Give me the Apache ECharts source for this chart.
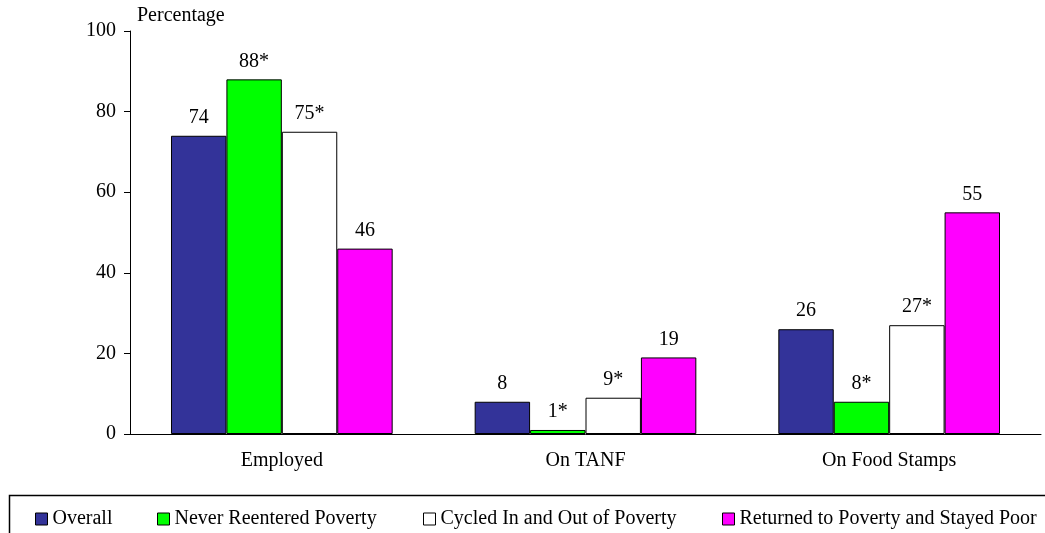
<!DOCTYPE html>
<html><head><meta charset="utf-8">
<script src="https://cdn.jsdelivr.net/npm/echarts@6/dist/echarts.min.js"></script>
<style>html,body{margin:0;padding:0;background:#fff}#c{width:1045px;height:533px}</style>
</head><body><div id="c"></div>
<script>
const categories = ["Employed", "On TANF", "On Food Stamps"];
const seriesNames = ["Overall", "Never Reentered Poverty", "Cycled In and Out of Poverty", "Returned to Poverty and Stayed Poor"];
const overall = [74, 8, 26];
const neverReentered = [88, 1, 8];
const cycled = [75, 9, 27];
const returned = [46, 19, 55];
const overallLabels = ["74", "8", "26"];
const neverLabels = ["88*", "1*", "8*"];
const cycledLabels = ["75*", "9*", "27*"];
const returnedLabels = ["46", "19", "55"];
const yTicks = [0, 20, 40, 60, 80, 100];
const colors = ["#333399", "#00FF00", "#FFFFFF", "#FF00FF"];

const FONT = "Liberation Serif";
const FS = 20;
const allData = [overall, neverReentered, cycled, returned];
const allLabels = [overallLabels, neverLabels, cycledLabels, returnedLabels];
const legendLefts = [35, 157, 423, 722];

const chart = echarts.init(document.getElementById('c'));
chart.setOption({
  animation: false,
  backgroundColor: '#fff',
  textStyle: {fontFamily: FONT, color: '#000'},
  grid: {left: 130, right: 4, top: 31, bottom: 99, containLabel: false},
  graphic: [{type: 'rect', shape: {x: 9.5, y: 495.5, width: 1050, height: 60},
    style: {fill: 'none', stroke: '#000', lineWidth: 1.5}, silent: true}],
  legend: seriesNames.map((n, i) => ({
    data: [{name: n, icon: 'rect'}], left: legendLefts[i], top: 509, itemWidth: 12, itemHeight: 12,
    itemGap: 0, selectedMode: false, padding: 0,
    textStyle: {fontFamily: FONT, fontSize: FS, color: '#000'},
    itemStyle: {borderColor: '#000', borderWidth: 1}
  })),
  xAxis: {
    type: 'category', data: categories,
    axisLine: {lineStyle: {color: '#000', width: 1}},
    axisTick: {show: false},
    axisLabel: {fontFamily: FONT, fontSize: FS, color: '#000', margin: 17}
  },
  yAxis: {
    type: 'value', min: 0, max: 100, interval: 20,
    name: 'Percentage', nameLocation: 'end', nameGap: 5,
    nameTextStyle: {fontFamily: FONT, fontSize: FS, color: '#000', align: 'left', padding: [0, 0, 0, 7]},
    axisLine: {show: true, lineStyle: {color: '#000', width: 1}},
    axisTick: {show: true, length: 6, lineStyle: {color: '#000'}},
    splitLine: {show: false},
    axisLabel: {fontFamily: FONT, fontSize: FS, color: '#000', margin: 14,
      formatter: v => yTicks.includes(v) ? String(v) : ''}
  },
  series: seriesNames.map((n, i) => ({
    name: n, type: 'bar', barGap: '0%', barCategoryGap: '27%',
    data: allData[i],
    itemStyle: {color: colors[i], borderColor: '#000', borderWidth: 1},
    label: {show: true, position: 'top', distance: 8, fontFamily: FONT, fontSize: FS, color: '#000',
      formatter: p => allLabels[i][p.dataIndex]}
  }))
});
</script></body></html>
